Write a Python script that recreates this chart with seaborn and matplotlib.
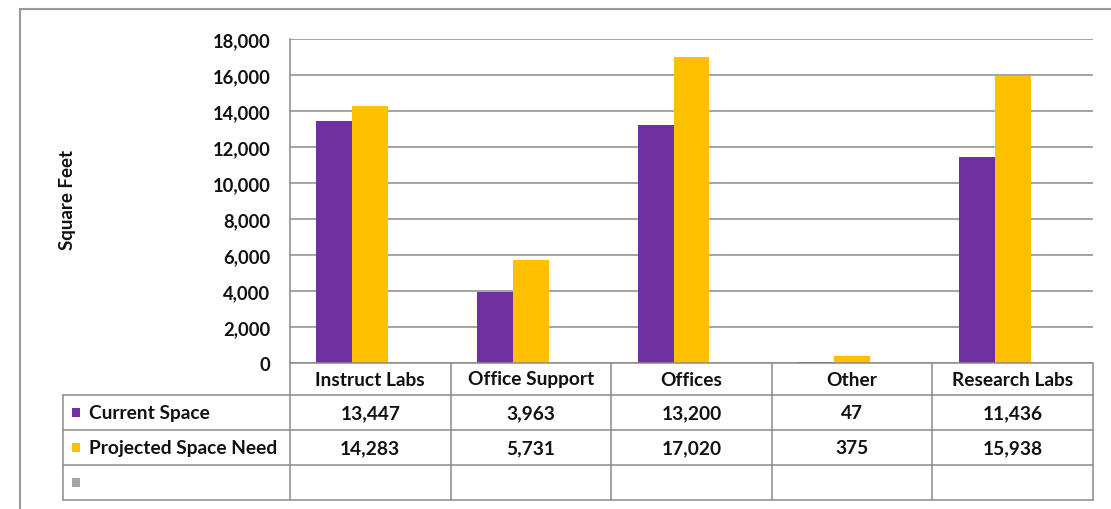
import matplotlib
matplotlib.use("Agg")
import matplotlib.pyplot as plt
import seaborn as sns
import pandas as pd
import numpy as np
from matplotlib.lines import Line2D
from matplotlib.patches import Rectangle

# --- data ---------------------------------------------------------------
categories = ["Instruct Labs", "Office Support", "Offices", "Other", "Research Labs"]
current_space = [13447, 3963, 13200, 47, 11436]
projected_need = [14283, 5731, 17020, 375, 15938]
series_names = ["Current Space", "Projected Space Need", ""]
series_colors = ["#7030A0", "#FFC000", "#A5A5A5"]
y_ticks = [0, 2000, 4000, 6000, 8000, 10000, 12000, 14000, 16000, 18000]

rows = []
for c, a, b in zip(categories, current_space, projected_need):
    rows.append({"cat": c, "series": series_names[0], "value": a})
    rows.append({"cat": c, "series": series_names[1], "value": b})
    rows.append({"cat": c, "series": series_names[2], "value": np.nan})
df = pd.DataFrame(rows)

# --- figure -------------------------------------------------------------
W, H = 1111, 510
sns.set_theme(style="white")
plt.rcParams["font.family"] = ["Lato", "DejaVu Sans"]
fig = plt.figure(figsize=(W / 100, H / 100), dpi=100)

def fx(px):
    return px / W

def fy(py):
    return 1 - py / H

TXT = "#111111"
FS = 13.8

# plot area in pixel coordinates
L, R, T, B = 290, 1093, 40, 364
ax = fig.add_axes([fx(L), fy(B), fx(R - L), (B - T) / H])

sns.barplot(data=df, x="cat", y="value", hue="series", order=categories,
            hue_order=series_names, palette=series_colors, width=0.672,
            dodge=True, errorbar=None, saturation=1, legend=False, ax=ax,
            linewidth=0)

ax.set_ylim(0, 18000)
ax.set_xlim(-0.5, len(categories) - 0.5)
ax.set_yticks(y_ticks)
ax.set_yticklabels([f"{v:,}" for v in y_ticks], fontsize=13.2,
                   fontweight="bold", color=TXT)
ax.tick_params(axis="y", length=0, pad=14)
ax.set_xticks([])
ax.set_xlabel("")
ax.set_ylabel("")
ax.yaxis.grid(True, color="#8a8a8a", linewidth=1.1)
ax.set_axisbelow(True)
for s in ["top", "right", "bottom"]:
    ax.spines[s].set_visible(False)
ax.spines["left"].set_color("#8a8a8a")
ax.spines["left"].set_linewidth(1.1)

fig.text(fx(68), fy(200), "Square Feet", rotation=90, ha="center", va="center",
         fontsize=13.5, fontweight="bold", color=TXT)

# --- data table beneath the bars ------------------------------------------
grid_col = "#8a8a8a"
col_w = (R - L) / len(categories)
col_edges = [L + i * col_w for i in range(len(categories) + 1)]
row_edges = [364, 396, 431, 466, 501]
tbl_left = 63

def hline(y, x0, x1):
    fig.add_artist(Line2D([fx(x0), fx(x1)], [fy(y), fy(y)], color=grid_col, lw=1.1))

def vline(x, y0, y1):
    fig.add_artist(Line2D([fx(x), fx(x)], [fy(y0), fy(y1)], color=grid_col, lw=1.1))

hline(row_edges[0], L, R)
for y in row_edges[1:]:
    hline(y, tbl_left, R)
for x in col_edges:
    vline(x, row_edges[0], row_edges[-1])
vline(tbl_left, row_edges[1], row_edges[-1])

for i, c in enumerate(categories):
    cx = (col_edges[i] + col_edges[i + 1]) / 2
    fig.text(fx(cx), fy((row_edges[0] + row_edges[1]) / 2), c, ha="center",
             va="center", fontsize=FS, fontweight="bold", color=TXT)
    for r, vals in enumerate([current_space, projected_need]):
        fig.text(fx(cx), fy((row_edges[r + 1] + row_edges[r + 2]) / 2),
                 f"{vals[i]:,}", ha="center", va="center", fontsize=FS,
                 fontweight="bold", color=TXT)

for r, (name, col) in enumerate(zip(series_names, series_colors)):
    cy = (row_edges[r + 1] + row_edges[r + 2]) / 2
    fig.add_artist(Rectangle((fx(72), fy(cy + 4.5)), fx(8), 9 / H,
                             facecolor=col, edgecolor="none"))
    if name:
        fig.text(fx(89), fy(cy), name, ha="left", va="center", fontsize=FS,
                 fontweight="bold", color=TXT)

# outer chart border
fig.add_artist(Rectangle((fx(20), fy(520)), fx(1120), 510 / H, facecolor="none",
                         edgecolor="#9a9a9a", lw=1.5))

fig.savefig("out.png", dpi=100)
